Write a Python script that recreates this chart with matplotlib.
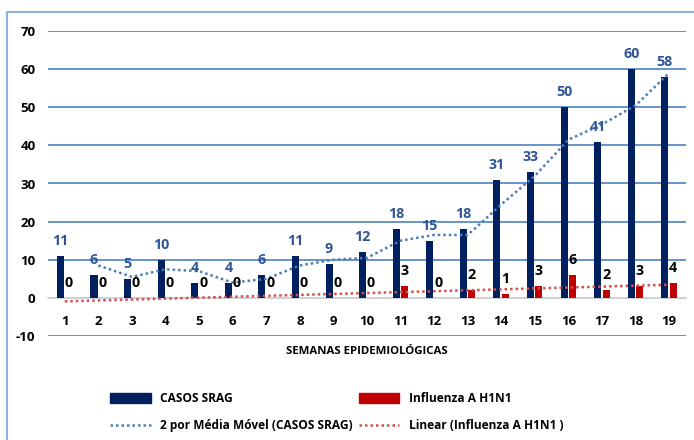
import numpy as np
import pandas as pd
import matplotlib
matplotlib.use("Agg")
import matplotlib.pyplot as plt
from matplotlib.lines import Line2D
from matplotlib.patches import Patch

semanas = [str(i) for i in range(1, 20)]
casos_srag = [11, 6, 5, 10, 4, 4, 6, 11, 9, 12, 18, 15, 18, 31, 33, 50, 41, 60, 58]
influenza = [0, 0, 0, 0, 0, 0, 0, 0, 0, 0, 3, 0, 2, 1, 3, 6, 2, 3, 4]

NAVY = '#002060'
RED = '#C00000'
LBL_BLUE = '#2F5597'
GRID = '#5B8BC7'

plt.rcParams['font.family'] = ['Open Sans', 'DejaVu Sans']
plt.rcParams['font.weight'] = 'bold'

fig = plt.figure(figsize=(6.94, 4.4), dpi=100)
ax = fig.add_axes([48 / 694, 1 - 336 / 440, (686 - 48) / 694, (336 - 31) / 440])

x = np.arange(1, len(semanas) + 1)
w = 0.21
ax.bar(x - 0.13, casos_srag, width=w, color=NAVY, zorder=3)
ax.bar(x + 0.12, influenza, width=w, color=RED, zorder=3)

# trendlines like excel does them
ma = pd.Series(casos_srag).rolling(2).mean()
ax.plot(x, ma, color='#4A7EBB', lw=1.8, linestyle=(0, (1, 1.2)), zorder=4)
coef = np.polyfit(x, influenza, 1)
ax.plot(x, np.polyval(coef, x), color='#D0504D', lw=1.8, linestyle=(0, (1, 1.2)), zorder=4)

for xi, v in zip(x, casos_srag):
    ax.annotate(str(v), (xi - 0.13, v), xytext=(0, 8), textcoords='offset pixels',
                ha='center', va='bottom', fontsize=10.3, color=LBL_BLUE, fontweight='bold', zorder=5)
for xi, v in zip(x, influenza):
    ax.annotate(str(v), (xi + 0.12, v), xytext=(0, 8), textcoords='offset pixels',
                ha='center', va='bottom', fontsize=10.3, color='black', fontweight='bold', zorder=5)

ax.set_xlim(0.5, 19.5)
ax.set_ylim(-10, 70)
ax.set_yticks(range(-10, 71, 10))
ax.set_yticklabels([str(v) for v in range(-10, 71, 10)])
ax.set_xticks(x)
ax.set_xticklabels(semanas)
ax.grid(axis='y', color=GRID, lw=1.3, zorder=0)
for s in ['top', 'right', 'left']:
    ax.spines[s].set_visible(False)
ax.spines['bottom'].set_position(('data', 0))
ax.spines['bottom'].set_color('#D9D9D9')
ax.spines['bottom'].set_linewidth(1.3)
ax.spines['bottom'].set_zorder(2)
ax.tick_params(axis='x', length=0, pad=12, labelsize=9.5)
ax.tick_params(axis='y', length=0, pad=9, labelsize=9.5)

fig.text(367 / 694, 1 - 351 / 440, 'SEMANAS EPIDEMIOLÓGICAS', ha='center', va='center',
         fontsize=8.2, fontweight='bold')

handles = [Patch(color=NAVY),
           Line2D([], [], color='#4A7EBB', lw=1.8, linestyle=(0, (1, 1.2))),
           Patch(color=RED),
           Line2D([], [], color='#D0504D', lw=1.8, linestyle=(0, (1, 1.2)))]
labels = ['CASOS SRAG', '2 por Média Móvel (CASOS SRAG)',
          'Influenza A H1N1', 'Linear (Influenza A H1N1 )']
fig.legend(handles, labels, ncol=2, loc='upper left', bbox_to_anchor=(110 / 694, 1 - 392 / 440),
           frameon=False, fontsize=8.6, handlelength=3.4, handleheight=1.0, handletextpad=0.8,
           columnspacing=0.5, labelspacing=1.2, borderpad=0, borderaxespad=0)

# chart border (only top/left visible in the crop)
fig.add_artist(Line2D([7 / 694, 7 / 694, 1], [0, 1 - 12 / 440, 1 - 12 / 440],
                      transform=fig.transFigure, color='#8FB0DC', lw=1.5))

fig.savefig('out.png', dpi=100)
